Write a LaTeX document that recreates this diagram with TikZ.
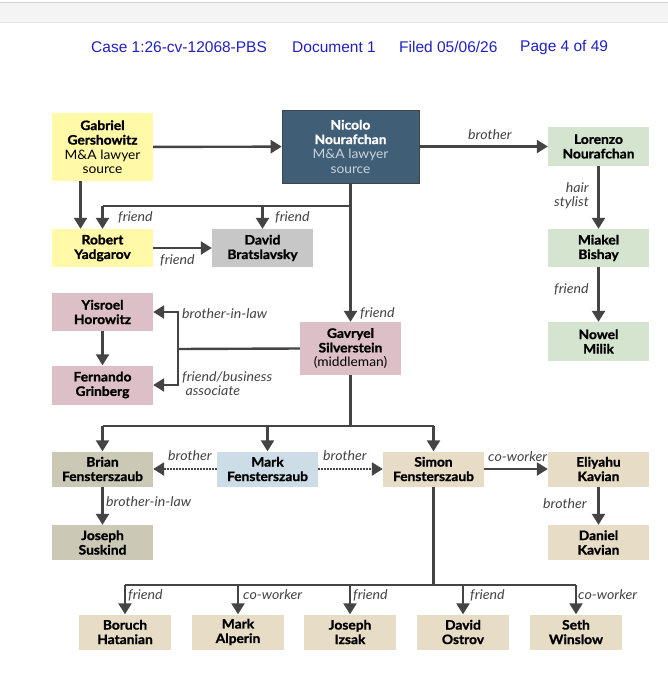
\documentclass[tikz,border=0pt]{standalone}
\usepackage{fontspec}
\setmainfont[FakeStretch=1.06, BoldFeatures={FakeBold=1.2}]{Lato}
\newfontfamily\headfont{Liberation Sans}
\usetikzlibrary{arrows.meta}

\definecolor{linec}{RGB}{68,68,68}
\definecolor{headc}{RGB}{32,32,196}
\definecolor{yellowc}{RGB}{255,249,168}
\definecolor{navyc}{RGB}{64,94,118}
\definecolor{navytext}{RGB}{200,212,222}
\definecolor{greenc}{RGB}{212,228,207}
\definecolor{grayc}{RGB}{199,199,199}
\definecolor{pinkc}{RGB}{221,192,199}
\definecolor{khakic}{RGB}{203,200,182}
\definecolor{bluec}{RGB}{205,221,231}
\definecolor{tanc}{RGB}{231,220,198}

\begin{document}
\begin{tikzpicture}[x=1pt,y=-1pt,
    box/.style={rectangle, inner sep=0pt, align=center, text=black,
        minimum width=101pt, minimum height=38pt,
        font=\bfseries\fontsize{13}{14.5}\selectfont},
    lower/.style={box, minimum height=35pt},
    bottom/.style={box, minimum width=92pt, minimum height=35pt, fill=tanc},
    lab/.style={inner sep=0pt, text=linec, font=\itshape\fontsize{13.4}{14}\selectfont},
    head/.style={inner sep=0pt, anchor=west, text=headc, font=\headfont\fontsize{15.5}{17}\selectfont},
    line/.style={draw=linec, line width=2.4pt},
    arr/.style={line, -{Triangle[length=11pt,width=13pt]}},
    dots/.style={arr, dash pattern=on 1.6pt off 1.4pt}]

    \useasboundingbox (0,0) rectangle (668,680);
    \fill[white] (0,0) rectangle (668,680);
    \fill[gray!9] (0,2) rectangle (668,22);
    \draw[gray!35, line width=1pt] (0,2.5) -- (668,2.5);
    \draw[gray!20, line width=0.8pt] (0,22) -- (668,22);

    \node[head] (case) at (91,47) {Case 1:26-cv-12068-PBS};
    \node[head] (doc) at (292,47) {Document 1};
    \node[head] (filed) at (399,47) {Filed 05/06/26};
    \node[head] (page) at (520,47) {Page 4 of 49};

    \node[box, fill=yellowc, minimum height=68pt] (gabriel) at (102.5,147) {Gabriel\\Gershowitz\\{\mdseries M\&A lawyer}\\{\mdseries source}};
    \node[box, fill=navyc, draw=linec, line width=0.6pt, text=white, minimum width=137pt, minimum height=73pt] (nicolo) at (350.5,146.5) {Nicolo\\Nourafchan\\{\mdseries\color{navytext}M\&A lawyer}\\{\mdseries\color{navytext}source}};
    \node[box, fill=greenc, minimum height=39pt] (lorenzo) at (598.5,146.5) {Lorenzo\\Nourafchan};
    \node[box, fill=yellowc] (robert) at (102.5,248) {Robert\\Yadgarov};
    \node[box, fill=grayc] (david) at (262.5,248) {David\\Bratslavsky};
    \node[box, fill=greenc] (miakel) at (598.5,248) {Miakel\\Bishay};
    \node[box, fill=greenc, minimum height=39pt] (nowel) at (598.5,341.5) {Nowel\\Milik};
    \node[box, fill=pinkc] (yisroel) at (102.5,312) {Yisroel\\Horowitz};
    \node[box, fill=pinkc, minimum height=39pt] (fernando) at (102.5,385) {Fernando\\Grinberg};
    \node[box, fill=pinkc, minimum height=53pt] (gavryel) at (350.5,348.5) {Gavryel\\Silverstein\\{\mdseries(middleman)}};

    \node[lower, fill=khakic] (brian) at (102.5,469) {Brian\\Fensterszaub};
    \node[lower, fill=bluec] (markf) at (267.5,469) {Mark\\Fensterszaub};
    \node[lower, fill=tanc] (simon) at (433.5,469) {Simon\\Fensterszaub};
    \node[lower, fill=tanc] (eliyahu) at (598.5,469) {Eliyahu\\Kavian};
    \node[lower, fill=khakic] (joseph) at (102.5,542.5) {Joseph\\Suskind};
    \node[lower, fill=tanc] (daniel) at (598.5,542.5) {Daniel\\Kavian};

    \node[bottom] (boruch) at (125,632) {Boruch\\Hatanian};
    \node[bottom] (marka) at (238,632) {Mark\\Alperin};
    \node[bottom] (josephi) at (350,632) {Joseph\\Izsak};
    \node[bottom] (davido) at (463,632) {David\\Ostrov};
    \node[bottom] (seth) at (576,632) {Seth\\Winslow};

    \coordinate (fbus) at (0,206);
    \coordinate (mbus) at (0,426);
    \coordinate (sbus) at (0,585);
    \coordinate (brk) at (178,349);

    \draw[arr] (gabriel) -- (nicolo);
    \draw[arr] (nicolo) -- (lorenzo);
    \draw[arr] ([xshift=-22pt]gabriel.south) -- ([xshift=-22pt]robert.north);
    \draw[line] (nicolo.south |- fbus) -- (robert.north |- fbus);
    \draw[arr] (robert.north |- fbus) -- (robert.north);
    \draw[arr] (david.north |- fbus) -- (david.north);
    \draw[arr] (nicolo.south) -- (gavryel.north);
    \draw[arr] (robert) -- (david);
    \draw[arr] (lorenzo) -- (miakel);
    \draw[arr] (miakel) -- (nowel);
    \draw[arr] (yisroel) -- (fernando);
    \draw[line] (gavryel.west) -- (brk);
    \draw[arr] (brk) |- (yisroel.east);
    \draw[arr] (brk) |- (fernando.east);

    \draw[line] (gavryel.south) -- (gavryel.south |- mbus);
    \draw[line] (brian.north |- mbus) -- (simon.north |- mbus);
    \draw[arr] (brian.north |- mbus) -- (brian.north);
    \draw[arr] (markf.north |- mbus) -- (markf.north);
    \draw[arr] (simon.north |- mbus) -- (simon.north);
    \draw[dots] (markf) -- (brian);
    \draw[dots] (markf) -- (simon);
    \draw[arr] (simon) -- (eliyahu);
    \draw[arr] (eliyahu) -- (daniel);
    \draw[arr] (brian) -- (joseph);

    \draw[line] (simon.south) -- (simon.south |- sbus);
    \draw[line] (boruch.north |- sbus) -- (seth.north |- sbus);
    \foreach \n in {boruch,marka,josephi,davido,seth}
        \draw[arr] (\n.north |- sbus) -- (\n.north);

    \node[lab, anchor=west] (l1) at (118,217) {friend};
    \node[lab, anchor=west] (l2) at (275,217) {friend};
    \node[lab, anchor=west] (l3) at (160,260) {friend};
    \node[lab, anchor=west] (l4) at (468,135) {brother};
    \node[lab, anchor=east, align=right] (l5) at (589,196) {hair\\stylist};
    \node[lab, anchor=west] (l6) at (554,289) {friend};
    \node[lab, anchor=west] (l7) at (360,313) {friend};
    \node[lab, anchor=west] (l8) at (182,314) {brother-in-law};
    \node[lab, anchor=west, align=left] (l9) at (182,384) {friend/business\\\ associate};
    \node[lab, anchor=west] (l10) at (168,456) {brother};
    \node[lab, anchor=west] (l11) at (323,456) {brother};
    \node[lab, anchor=west] (l12) at (488,457) {co-worker};
    \node[lab, anchor=west] (l13) at (106,502) {brother-in-law};
    \node[lab, anchor=west] (l14) at (543,504) {brother};
    \node[lab, anchor=west] (l15) at (128,595) {friend};
    \node[lab, anchor=west] (l16) at (243,595) {co-worker};
    \node[lab, anchor=west] (l17) at (353,595) {friend};
    \node[lab, anchor=west] (l18) at (470,595) {friend};
    \node[lab, anchor=west] (l19) at (578,595) {co-worker};
\end{tikzpicture}
\end{document}
